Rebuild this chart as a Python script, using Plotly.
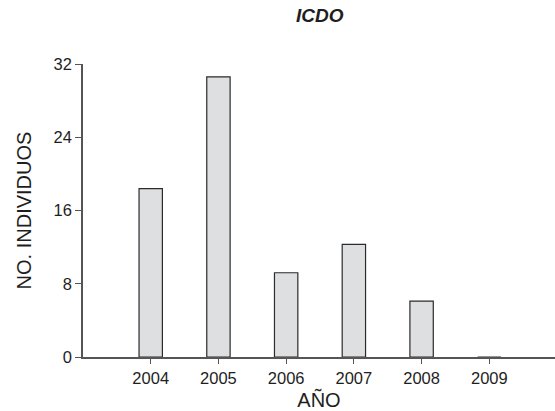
import plotly.graph_objects as go

# Number of individuals recorded per year
years = ["2004", "2005", "2006", "2007", "2008", "2009"]
individuals = [18.4, 30.6, 9.2, 12.3, 6.1, 0]
y_ticks = [0, 8, 16, 24, 32]

font_family = "Liberation Sans, Arial, sans-serif"
text_color = "#1e1e1e"
axis_color = "#555555"

fig = go.Figure(
    go.Bar(
        x=years,
        y=individuals,
        width=0.345,
        marker=dict(color="#DEDFE0", line=dict(color="#2b2b2b", width=1.2)),
        hoverinfo="x+y",
    )
)

fig.update_layout(
    width=555,
    height=411,
    margin=dict(l=83, r=0, t=64, b=54),
    paper_bgcolor="white",
    plot_bgcolor="white",
    showlegend=False,
    font=dict(family=font_family, color=text_color),
    title=dict(
        text="<b><i>ICDO</i></b>",
        x=0.576,
        xanchor="center",
        y=0.963,
        yanchor="middle",
        font=dict(size=19, family=font_family, color=text_color),
    ),
    xaxis=dict(
        type="category",
        range=[-1, 5.97],
        showline=True,
        linecolor=axis_color,
        linewidth=1.5,
        ticks="outside",
        ticklen=5,
        tickwidth=1,
        tickcolor=axis_color,
        showgrid=False,
        zeroline=False,
        tickfont=dict(size=16.5, color=text_color),
        title=dict(text="AÑO", font=dict(size=20, color=text_color), standoff=8),
    ),
    yaxis=dict(
        range=[0, 32],
        tickvals=y_ticks,
        showline=True,
        linecolor=axis_color,
        linewidth=1.5,
        ticks="outside",
        ticklen=6,
        tickwidth=1,
        tickcolor=axis_color,
        showgrid=False,
        zeroline=False,
        tickfont=dict(size=16.5, color=text_color),
        title=dict(text="NO. INDIVIDUOS", font=dict(size=20, color=text_color), standoff=17),
    ),
)

fig.write_html("out.html")
